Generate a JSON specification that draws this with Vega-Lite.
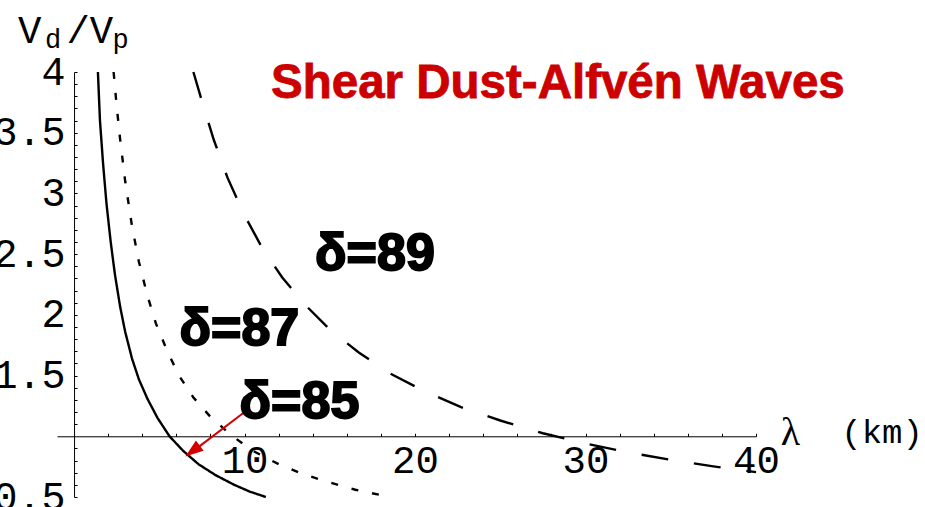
{
  "$schema": "https://vega.github.io/schema/vega-lite/v6.json",
  "width": 699,
  "height": 425,
  "autosize": {"type": "none"},
  "padding": {"left": 57, "top": 72, "right": 169, "bottom": 10},
  "background": "white",
  "config": {"view": {"stroke": null}},
  "datasets": {
    "curves": [
      {"delta": "85", "x": 1.40, "y": 4.00}, {"delta": "85", "x": 1.52, "y": 3.60}, {"delta": "85", "x": 1.70, "y": 3.25},
      {"delta": "85", "x": 1.90, "y": 2.92}, {"delta": "85", "x": 2.15, "y": 2.60}, {"delta": "85", "x": 2.40, "y": 2.33},
      {"delta": "85", "x": 2.70, "y": 2.07}, {"delta": "85", "x": 3.00, "y": 1.86}, {"delta": "85", "x": 3.40, "y": 1.64},
      {"delta": "85", "x": 3.80, "y": 1.47}, {"delta": "85", "x": 4.30, "y": 1.31}, {"delta": "85", "x": 4.90, "y": 1.15},
      {"delta": "85", "x": 5.60, "y": 1.00}, {"delta": "85", "x": 6.40, "y": 0.88}, {"delta": "85", "x": 7.30, "y": 0.77},
      {"delta": "85", "x": 8.30, "y": 0.68}, {"delta": "85", "x": 9.40, "y": 0.60}, {"delta": "85", "x": 10.30, "y": 0.545},
      {"delta": "85", "x": 11.25, "y": 0.50},
      {"delta": "87", "x": 2.32, "y": 4.00}, {"delta": "87", "x": 2.50, "y": 3.72}, {"delta": "87", "x": 2.70, "y": 3.45},
      {"delta": "87", "x": 3.00, "y": 3.10}, {"delta": "87", "x": 3.40, "y": 2.73}, {"delta": "87", "x": 3.80, "y": 2.44},
      {"delta": "87", "x": 4.30, "y": 2.16}, {"delta": "87", "x": 4.80, "y": 1.93}, {"delta": "87", "x": 5.50, "y": 1.69},
      {"delta": "87", "x": 6.20, "y": 1.49}, {"delta": "87", "x": 7.00, "y": 1.32}, {"delta": "87", "x": 8.00, "y": 1.16},
      {"delta": "87", "x": 9.30, "y": 1.00}, {"delta": "87", "x": 10.50, "y": 0.88}, {"delta": "87", "x": 12.00, "y": 0.77},
      {"delta": "87", "x": 13.50, "y": 0.685}, {"delta": "87", "x": 15.00, "y": 0.62}, {"delta": "87", "x": 16.50, "y": 0.56},
      {"delta": "87", "x": 18.20, "y": 0.51},
      {"delta": "89", "x": 7.00, "y": 4.00}, {"delta": "89", "x": 7.50, "y": 3.76}, {"delta": "89", "x": 8.20, "y": 3.44},
      {"delta": "89", "x": 9.00, "y": 3.13}, {"delta": "89", "x": 10.00, "y": 2.82}, {"delta": "89", "x": 11.00, "y": 2.56},
      {"delta": "89", "x": 12.20, "y": 2.31}, {"delta": "89", "x": 13.50, "y": 2.09}, {"delta": "89", "x": 15.00, "y": 1.88},
      {"delta": "89", "x": 16.70, "y": 1.69}, {"delta": "89", "x": 18.50, "y": 1.52}, {"delta": "89", "x": 20.50, "y": 1.375},
      {"delta": "89", "x": 22.70, "y": 1.24}, {"delta": "89", "x": 25.00, "y": 1.13}, {"delta": "89", "x": 27.50, "y": 1.025},
      {"delta": "89", "x": 30.00, "y": 0.94}, {"delta": "89", "x": 32.50, "y": 0.868}, {"delta": "89", "x": 35.00, "y": 0.806},
      {"delta": "89", "x": 37.50, "y": 0.752}, {"delta": "89", "x": 40.00, "y": 0.705}
    ],
    "notes": [
      {"note": "δ=89", "kind": "delta", "x": 17.65, "y": 2.367},
      {"note": "δ=87", "kind": "delta", "x": 9.70, "y": 1.749},
      {"note": "δ=85", "kind": "delta", "x": 13.22, "y": 1.148},
      {"note": "Shear Dust-Alfvén Waves", "kind": "title", "x": 28.38, "y": 3.783},
      {"note": "λ", "kind": "lambda", "x": 41.45, "y": 1.03},
      {"note": "(km)", "kind": "unit", "x": 45.0, "y": 1.03},
      {"note": "V", "kind": "axis", "x": -3.29, "y": 4.236},
      {"note": "/V", "kind": "axis", "x": -0.45, "y": 4.236},
      {"note": "d", "kind": "sub", "x": -1.7, "y": 4.2},
      {"note": "p", "kind": "sub", "x": 2.25, "y": 4.2}
    ],
    "arrow": [{"x": 10.14, "y": 1.214, "x2": 7.1, "y2": 0.89}],
    "head": [{"x": 6.95, "y": 0.878}]
  },
  "encoding": {
    "x": {
      "field": "x", "type": "quantitative",
      "scale": {"domain": [-1, 40], "nice": false, "zero": false},
      "axis": {
        "title": null, "orient": "bottom", "offset": -60.71, "grid": false,
        "values": [2,4,6,8,10,12,14,16,18,20,22,24,26,28,30,32,34,36,38,40],
        "labelExpr": "datum.value % 10 == 0 ? '' + datum.value : ''",
        "domainColor": "black", "domainWidth": 1, "tickColor": "black", "tickWidth": 1, "tickSize": -3,
        "labelFont": "Liberation Mono", "labelFontSize": 39, "labelColor": "black", "labelPadding": 8,
        "labelOverlap": false, "labelFlush": false, "labelBaseline": "top"
      }
    },
    "y": {
      "field": "y", "type": "quantitative",
      "scale": {"domain": [0.5, 4], "nice": false, "zero": false},
      "axis": {
        "title": null, "orient": "left", "offset": -17.05, "grid": false,
        "values": [0.5,0.6,0.7,0.8,0.9,1.1,1.2,1.3,1.4,1.5,1.6,1.7,1.8,1.9,2.0,2.1,2.2,2.3,2.4,2.5,2.6,2.7,2.8,2.9,3.0,3.1,3.2,3.3,3.4,3.5,3.6,3.7,3.8,3.9,4.0],
        "labelExpr": "abs(datum.value*2 - round(datum.value*2)) < 0.001 && datum.value != 1 ? '' + datum.value : ''",
        "domainColor": "black", "domainWidth": 1, "tickColor": "black", "tickWidth": 1, "tickSize": -3,
        "labelFont": "Liberation Mono", "labelFontSize": 40, "labelColor": "black", "labelPadding": 12,
        "labelOverlap": false, "labelFlush": false
      }
    }
  },
  "layer": [
    {
      "data": {"name": "curves"},
      "mark": {"type": "line", "color": "black", "strokeWidth": 2.4},
      "encoding": {
        "strokeDash": {
          "field": "delta", "type": "nominal", "legend": null,
          "scale": {"domain": ["85", "87", "89"], "range": [[1, 0], [7, 14], [27, 26]]}
        }
      }
    },
    {
      "data": {"name": "arrow"},
      "mark": {"type": "rule", "color": "#d40000", "strokeWidth": 2},
      "encoding": {"x2": {"field": "x2"}, "y2": {"field": "y2"}}
    },
    {
      "data": {"name": "head"},
      "mark": {"type": "point", "shape": "M0,-1L0.7,1L-0.7,1Z", "filled": true, "color": "#d40000", "opacity": 1, "size": 330, "angle": 233}
    },
    {
      "data": {"name": "notes"},
      "transform": [{"filter": "datum.kind == 'delta'"}],
      "mark": {"type": "text", "font": "Liberation Sans", "fontWeight": "bold", "fontSize": 52, "align": "center", "baseline": "alphabetic", "color": "black", "stroke": "black", "strokeWidth": 2},
      "encoding": {"text": {"field": "note"}}
    },
    {
      "data": {"name": "notes"},
      "transform": [{"filter": "datum.kind == 'title'"}],
      "mark": {"type": "text", "font": "Liberation Sans", "fontWeight": "bold", "fontSize": 47.5, "align": "center", "baseline": "alphabetic", "color": "#cc0000", "stroke": "#cc0000", "strokeWidth": 0.8},
      "encoding": {"text": {"field": "note"}}
    },
    {
      "data": {"name": "notes"},
      "transform": [{"filter": "datum.kind == 'lambda'"}],
      "mark": {"type": "text", "font": "Liberation Serif", "fontSize": 40, "align": "left", "baseline": "middle", "color": "black"},
      "encoding": {"text": {"field": "note"}}
    },
    {
      "data": {"name": "notes"},
      "transform": [{"filter": "datum.kind == 'unit'"}],
      "mark": {"type": "text", "font": "Liberation Mono", "fontSize": 34, "align": "left", "baseline": "middle", "color": "black"},
      "encoding": {"text": {"field": "note"}}
    },
    {
      "data": {"name": "notes"},
      "transform": [{"filter": "datum.kind == 'axis'"}],
      "mark": {"type": "text", "font": "Liberation Mono", "fontSize": 39, "align": "left", "baseline": "alphabetic", "color": "black"},
      "encoding": {"text": {"field": "note"}}
    },
    {
      "data": {"name": "notes"},
      "transform": [{"filter": "datum.kind == 'sub'"}],
      "mark": {"type": "text", "font": "Liberation Mono", "fontSize": 27, "align": "left", "baseline": "alphabetic", "color": "black"},
      "encoding": {"text": {"field": "note"}}
    }
  ]
}
